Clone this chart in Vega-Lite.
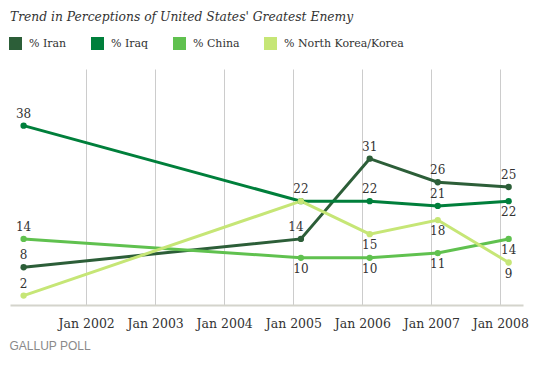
{
  "$schema": "https://vega.github.io/schema/vega-lite/v6.json",
  "autosize": {"type": "none"},
  "padding": {"left": 10, "top": 69, "right": 27, "bottom": 60},
  "width": 513,
  "height": 236,
  "background": "white",
  "config": {
    "view": {"stroke": null},
    "legend": {"labelFont": "DejaVu Serif", "labelFontSize": 11, "labelColor": "#333333"}
  },
  "title": {
    "text": "Trend in Perceptions of United States' Greatest Enemy",
    "anchor": "start",
    "frame": "group",
    "font": "DejaVu Serif",
    "fontStyle": "italic",
    "fontWeight": "normal",
    "fontSize": 12.3,
    "color": "#333333",
    "offset": 14
  },
  "data": {
    "values": [
      {"series": "% Iran", "date": "2001-02-04", "value": 8},
      {"series": "% Iran", "date": "2005-02-10", "value": 14},
      {"series": "% Iran", "date": "2006-02-09", "value": 31},
      {"series": "% Iran", "date": "2007-02-04", "value": 26},
      {"series": "% Iran", "date": "2008-02-14", "value": 25},
      {"series": "% Iraq", "date": "2001-02-04", "value": 38},
      {"series": "% Iraq", "date": "2005-02-10", "value": 22},
      {"series": "% Iraq", "date": "2006-02-09", "value": 22},
      {"series": "% Iraq", "date": "2007-02-04", "value": 21},
      {"series": "% Iraq", "date": "2008-02-14", "value": 22},
      {"series": "% China", "date": "2001-02-04", "value": 14},
      {"series": "% China", "date": "2005-02-10", "value": 10},
      {"series": "% China", "date": "2006-02-09", "value": 10},
      {"series": "% China", "date": "2007-02-04", "value": 11},
      {"series": "% China", "date": "2008-02-14", "value": 14},
      {"series": "% North Korea/Korea", "date": "2001-02-04", "value": 2},
      {"series": "% North Korea/Korea", "date": "2005-02-10", "value": 22},
      {"series": "% North Korea/Korea", "date": "2006-02-09", "value": 15},
      {"series": "% North Korea/Korea", "date": "2007-02-04", "value": 18},
      {"series": "% North Korea/Korea", "date": "2008-02-14", "value": 9}
    ]
  },
  "encoding": {
    "x": {
      "field": "date",
      "type": "temporal",
      "scale": {"domain": [{"year": 2000, "month": 11, "date": 24}, {"year": 2008, "month": 4, "date": 30}]},
      "axis": {
        "values": [
          {"year": 2002, "month": 1, "date": 1},
          {"year": 2003, "month": 1, "date": 1},
          {"year": 2004, "month": 1, "date": 1},
          {"year": 2005, "month": 1, "date": 1},
          {"year": 2006, "month": 1, "date": 1},
          {"year": 2007, "month": 1, "date": 1},
          {"year": 2008, "month": 1, "date": 1}
        ],
        "format": "%b %Y",
        "grid": true,
        "gridColor": "#cccccc",
        "gridWidth": 1,
        "ticks": false,
        "domainColor": "#d4d4cc",
        "domainWidth": 2,
        "labelFont": "DejaVu Serif",
        "labelFontSize": 12.5,
        "labelColor": "#333333",
        "labelPadding": 12,
        "labelFlush": false,
        "title": "GALLUP POLL",
        "titleFont": "Liberation Sans",
        "titleFontSize": 12,
        "titleFontWeight": "normal",
        "titleColor": "#8a8a8a",
        "titleAnchor": "start",
        "titleAlign": "left",
        "titleBaseline": "middle",
        "titleX": -1,
        "titleY": 40
      }
    },
    "y": {
      "field": "value",
      "type": "quantitative",
      "scale": {"domain": [0, 50]},
      "axis": null
    },
    "color": {
      "field": "series",
      "type": "nominal",
      "scale": {
        "domain": ["% Iran", "% Iraq", "% China", "% North Korea/Korea"],
        "range": ["#2c5e38", "#007f3b", "#60c14f", "#c6e676"]
      },
      "legend": {
        "orient": "none",
        "legendX": -1,
        "legendY": -32,
        "direction": "horizontal",
        "title": null,
        "symbolType": "square",
        "symbolSize": 169,
        "symbolStrokeWidth": 0,
        "symbolOpacity": 1,
        "labelFont": "DejaVu Serif",
        "labelFontSize": 11,
        "labelColor": "#333333",
        "labelOffset": 7,
        "columnPadding": 24,
        "padding": 0
      }
    }
  },
  "layer": [
    {
      "mark": {"type": "line", "strokeWidth": 3}
    },
    {
      "mark": {"type": "point", "filled": true, "size": 40, "opacity": 1}
    },
    {
      "transform": [
        {"filter": "!(datum.series == '% China' && year(datum.date) >= 2005) && !(datum.series == '% North Korea/Korea' && year(datum.date) >= 2005) && !(datum.series == '% Iraq' && year(datum.date) == 2008) && !(datum.series == '% Iran' && year(datum.date) == 2005)"}
      ],
      "mark": {"type": "text", "baseline": "bottom", "dy": -5, "font": "DejaVu Serif", "fontSize": 12, "color": "#333333"},
      "encoding": {"text": {"field": "value", "type": "quantitative"}, "color": {"value": "#333333"}}
    },
    {
      "transform": [
        {"filter": "(datum.series == '% China' && year(datum.date) >= 2005) || (datum.series == '% North Korea/Korea' && year(datum.date) >= 2006) || (datum.series == '% Iraq' && year(datum.date) == 2008)"}
      ],
      "mark": {"type": "text", "baseline": "top", "dy": 6, "font": "DejaVu Serif", "fontSize": 12, "color": "#333333"},
      "encoding": {"text": {"field": "value", "type": "quantitative"}, "color": {"value": "#333333"}}
    },
    {
      "transform": [
        {"filter": "datum.series == '% Iran' && year(datum.date) == 2005"}
      ],
      "mark": {"type": "text", "baseline": "bottom", "dy": -5, "dx": -5, "font": "DejaVu Serif", "fontSize": 12, "color": "#333333"},
      "encoding": {"text": {"field": "value", "type": "quantitative"}, "color": {"value": "#333333"}}
    }
  ]
}
